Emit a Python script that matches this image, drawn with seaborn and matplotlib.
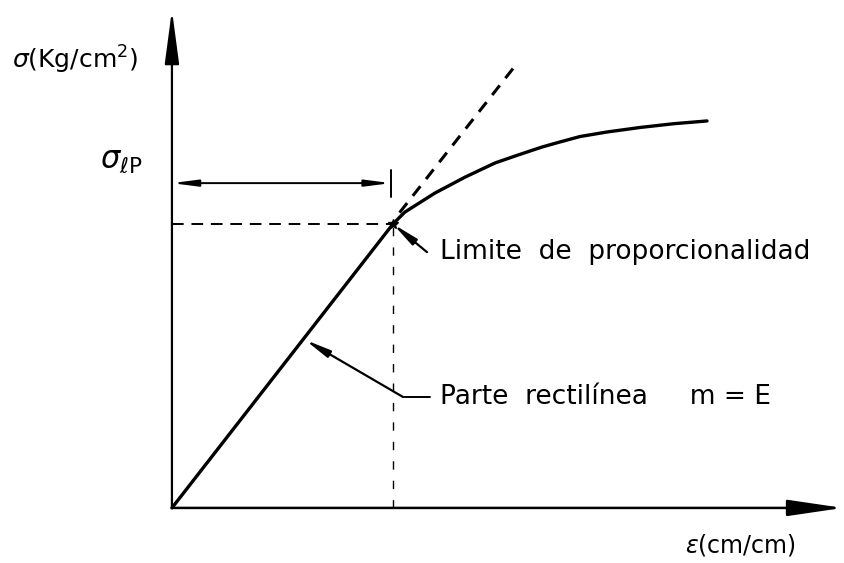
import numpy as np
import pandas as pd
import matplotlib
matplotlib.use('Agg')
import matplotlib.pyplot as plt
import seaborn as sns

# strain / stress in units of the proportional limit
eps_lin = [0.0, 1.0]
sig_lin = [0.0, 1.0]
eps_curve = [1.0, 1.054, 1.190, 1.326, 1.462, 1.566, 1.674, 1.756, 1.846,
             1.968, 2.118, 2.267, 2.421]
sig_curve = [1.0, 1.042, 1.109, 1.165, 1.215, 1.243, 1.271, 1.289, 1.308,
             1.324, 1.340, 1.353, 1.363]
eps_tangent = [1.03, 1.566]
sig_tangent = [1.04, 1.570]
eps_lp = 1.0
sig_lp = 1.0
sig_dim = 1.144
eps_max = 3.036
sig_max = 1.754

lbl_y = r'$\sigma$(Kg/cm$^2$)'
lbl_x = r'$\varepsilon$(cm/cm)'
lbl_lp = r'$\sigma_{\ell \mathrm{P}}$'
lbl_limite = 'Limite  de  proporcionalidad'
lbl_recta = 'Parte  rectilínea     m = E'

sns.set_style('white')
plt.rcParams['font.family'] = ['DejaVu Sans']
plt.rcParams['mathtext.fontset'] = 'dejavusans'
plt.rcParams['text.color'] = 'black'

fig = plt.figure(figsize=(8.44, 5.63), dpi=100)
ax = fig.add_axes([0, 0, 1, 1])
ax.set_xlim(-0.778, 3.041)
ax.set_ylim(-0.194, 1.789)
ax.set_axis_off()

df_lin = pd.DataFrame({'eps': eps_lin, 'sig': sig_lin})
df_curve = pd.DataFrame({'eps': eps_curve, 'sig': sig_curve})
df_tan = pd.DataFrame({'eps': eps_tangent, 'sig': sig_tangent})
sns.lineplot(data=df_lin, x='eps', y='sig', color='black', lw=2.4, ax=ax)
sns.lineplot(data=df_curve, x='eps', y='sig', color='black', lw=2.4, ax=ax)
sns.lineplot(data=df_tan, x='eps', y='sig', color='black', lw=2.2, ax=ax,
             linestyle=(0, (4, 3)))

# axes with arrows
ax.annotate('', xy=(0, sig_max), xytext=(0, 0),
            arrowprops=dict(arrowstyle='-|>,head_length=1.65,head_width=0.22',
                            mutation_scale=20, color='black', lw=1.6, shrinkA=0, shrinkB=0))
ax.annotate('', xy=(eps_max, 0), xytext=(0, 0),
            arrowprops=dict(arrowstyle='-|>,head_length=1.7,head_width=0.25',
                            mutation_scale=20, color='black', lw=1.8, shrinkA=0, shrinkB=0))

# guides to the proportional limit
ax.plot([0, eps_lp], [sig_lp, sig_lp], color='black', lw=1.4, linestyle=(0, (6, 4)))
ax.plot([eps_lp, eps_lp], [0, sig_lp], color='black', lw=1.0, linestyle=(0, (6, 8)))
ax.plot(eps_lp, sig_lp, marker='*', color='black', ms=7)

# dimension line
ax.annotate('', xy=(0, sig_dim), xytext=(eps_lp - 0.01, sig_dim),
            arrowprops=dict(arrowstyle='<|-|>,head_length=1.0,head_width=0.13',
                            mutation_scale=15, color='black', lw=1.4, shrinkA=0, shrinkB=0))
ax.plot([eps_lp - 0.01, eps_lp - 0.01], [sig_dim - 0.05, sig_dim + 0.046], color='black', lw=1.4)

# leaders and labels
ax.annotate('', xy=(eps_lp, sig_lp), xytext=(1.154, 0.901),
            arrowprops=dict(arrowstyle='-|>,head_length=1.0,head_width=0.15',
                            mutation_scale=15, color='black', lw=1.6, shrinkA=0, shrinkB=0))
ax.text(1.213, 0.901, lbl_limite, fontsize=19, va='center', ha='left')

ax.annotate('', xy=(0.602, 0.592), xytext=(1.045, 0.391),
            arrowprops=dict(arrowstyle='-|>,head_length=1.0,head_width=0.15',
                            mutation_scale=15, color='black', lw=1.6, shrinkA=0, shrinkB=0))
ax.plot([1.045, 1.167], [0.391, 0.391], color='black', lw=1.4)
ax.text(1.213, 0.391, lbl_recta, fontsize=19, va='center', ha='left')

ax.text(-0.724, 1.577, lbl_y, fontsize=18, va='center', ha='left')
ax.text(-0.326, 1.225, lbl_lp, fontsize=22, va='center', ha='left')
ax.text(2.321, -0.130, lbl_x, fontsize=17, va='center', ha='left')

fig.savefig('out.png', dpi=100, facecolor='white')
